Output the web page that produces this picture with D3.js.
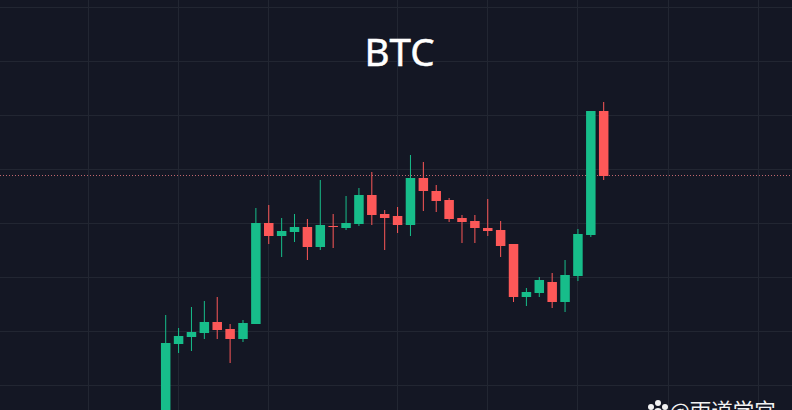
<!DOCTYPE html>
<html><head><meta charset="utf-8">
<script src="https://cdn.jsdelivr.net/npm/d3@7/dist/d3.min.js"></script>
<style>html,body{margin:0;padding:0;background:#141724;overflow:hidden}svg{display:block}</style>
</head><body><svg id="c" width="792" height="410"></svg>
<script>
// Index levels (no price axis is visible in the reference)
const highs  = [95,82,103,109,113,86,90,202,205,192,196,191,230,196,214,222,238,200,203,255,248,225,212,195,195,211,189,166,122,133,137,150,181,299,308];
const opens  = [-20,66,73,77,88,81,71,86,187,174,178,183,163,184,182,186,215,196,194,185,232,219,210,192,189,182,180,166,113,117,128,108,134,175,299];
const closes = [67,74,78,88,80,71,87,187,174,179,183,163,185,183,187,215,195,192,185,232,219,209,191,188,182,179,164,113,118,130,108,135,176,299,234];
const lows   = [-30,57,59,71,71,47,68,86,166,153,168,150,160,162,180,184,185,160,177,174,199,198,188,167,167,174,153,108,104,113,102,98,129,173,230];
const gridLevels = [25,79,133,187,241,295,349,403];
const gridSlots = [-6,1,8,18,25,32,39,46];
const lastLevel = 234.5;
const titleText = "BTC";
const watermarkText = "@雨道学宫";
const upColor = "#17bd8a", downColor = "#fd5858";

const W = 792, H = 410;
const svg = d3.select("#c");
svg.append("rect").attr("width",W).attr("height",H).attr("fill","#141724");
const x = d3.scaleLinear().domain([0,34]).range([165.7,603.7]);
const y = d3.scaleLinear().domain([0,410]).range([410,0]);
const bodyW = 9.5;

const grid = svg.append("g").attr("stroke","#222632").attr("stroke-width",1).attr("shape-rendering","crispEdges");
grid.selectAll("line.h").data(gridLevels).join("line").attr("class","h")
  .attr("x1",0).attr("x2",W).attr("y1",d=>Math.round(y(d))+.5).attr("y2",d=>Math.round(y(d))+.5);
const vx = d3.scaleLinear().domain([-6,1]).range([88.5,178.5]);
grid.selectAll("line.v").data(gridSlots).join("line").attr("class","v")
  .attr("x1",d=>d<=8?vx(d):x(d)).attr("x2",d=>d<=8?vx(d):x(d)).attr("y1",0).attr("y2",H);

svg.append("line").attr("x1",0).attr("x2",W).attr("y1",y(lastLevel)).attr("y2",y(lastLevel))
  .attr("stroke","#c0666e").attr("stroke-width",1).attr("stroke-dasharray","1 2");

const c = svg.append("g").selectAll("g").data(d3.range(opens.length)).join("g");
const col = i => closes[i]>=opens[i]?upColor:downColor;
c.append("line").attr("x1",i=>x(i)).attr("x2",i=>x(i)).attr("y1",i=>y(highs[i])).attr("y2",i=>y(lows[i]))
  .attr("stroke",col).attr("stroke-width",1);
c.append("rect").attr("x",i=>x(i)-bodyW/2).attr("width",bodyW)
  .attr("y",i=>y(Math.max(opens[i],closes[i]))).attr("height",i=>Math.max(1,Math.abs(y(opens[i])-y(closes[i]))))
  .attr("fill",col);

svg.append("text").attr("x",399.5).attr("y",66).attr("text-anchor","middle")
  .attr("font-family","'Noto Sans',sans-serif").attr("font-size",38.5).attr("fill","#ffffff")
  .attr("stroke","#ffffff").attr("stroke-width",0.5).text(titleText);

const dots = [[651,407,3],[658,403,3],[665,407,3],[650,414,3],[666,414,3],[658,412,4]];
svg.append("g").selectAll("circle").data(dots).join("circle")
  .attr("cx",d=>d[0]).attr("cy",d=>d[1]).attr("r",d=>d[2]).attr("fill","#f2f2f2");
svg.append("text").attr("x",669.5).attr("y",419)
  .attr("font-family","'Noto Sans CJK SC',sans-serif").attr("font-size",21.5).attr("fill","#f2f2f2").text(watermarkText);
</script></body></html>
